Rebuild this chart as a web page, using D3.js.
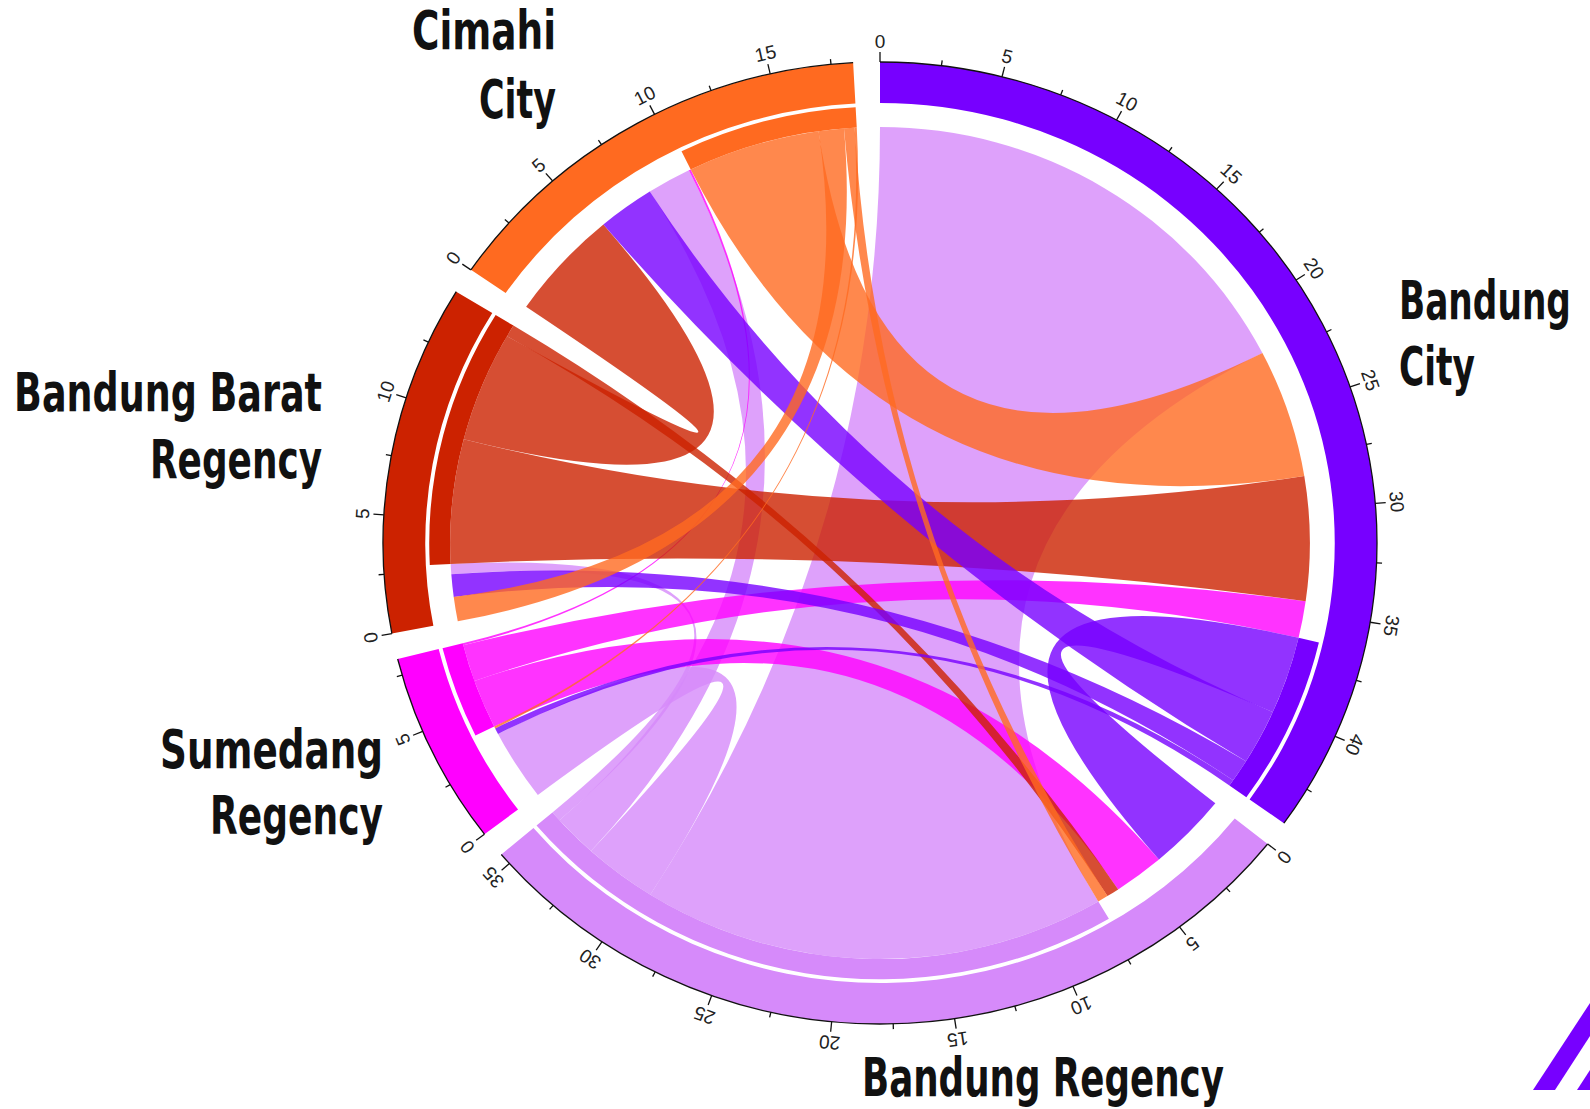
<!DOCTYPE html>
<html>
<head>
<meta charset="utf-8">
<script src="https://cdn.jsdelivr.net/npm/d3@7"></script>
<style>
body { margin: 0; background: #fff; }
svg { display: block; }
</style>
</head>
<body>
<svg id="chart" width="1590" height="1109"></svg>
<script>
// regions, clockwise from 12 o'clock
var regions = ["Bandung City", "Bandung Regency", "Sumedang Regency", "Bandung Barat Regency", "Cimahi City"];
var regionColors = ["#7700FF", "#D68AFA", "#FF00FF", "#CC2200", "#FF6A20"];

// flows: row = origin, column = destination (same order as regions)
var fromBandungCity    = [0,    3.8, 0.3, 1.1, 2.7];
var fromBandungRegency = [22.1, 0,   3.5, 0.5, 2.1];
var fromSumedang       = [1.8,  2.4, 0,   0,   0.1];
var fromBandungBarat   = [6.1,  0.6, 0,   0,   5.4];
var fromCimahi         = [6.3,  0.5, 0.1, 1.2, 0];
var flows = [fromBandungCity, fromBandungRegency, fromSumedang, fromBandungBarat, fromCimahi];

var majorStep = 5, minorStep = 2.5;

// label lines of each region
var labelLines = [["Bandung", "City"], ["Bandung Regency"], ["Sumedang", "Regency"], ["Bandung Barat", "Regency"], ["Cimahi", "City"]];

var svg = d3.select("#chart");
var cx = 880, cy = 543, R = 481, sx = 497 / 481;
var n = regions.length;
var gapDeg = 3.1;

var inTot = regions.map(function (d, j) { return d3.sum(flows, function (r) { return r[j]; }); });
var outTot = flows.map(function (r) { return d3.sum(r); });
var tot = regions.map(function (d, i) { return inTot[i] + outTot[i]; });
var unitDeg = (360 - n * gapDeg) / d3.sum(tot);

var rad = Math.PI / 180;
var scales = [];
var a0 = 0;
for (var i = 0; i < n; i++) {
	scales.push(d3.scaleLinear().domain([0, tot[i]]).range([a0 * rad, (a0 + tot[i] * unitDeg) * rad]));
	a0 += tot[i] * unitDeg + gapDeg;
}

// chord end positions: incoming first, then outgoing, both by decreasing value
var srcPos = {}, tgtPos = {}, outStart = [];
for (var k = 0; k < n; k++) {
	var pos = 0;
	var inc = d3.range(n).filter(function (i) { return flows[i][k] > 0; })
		.sort(function (p, q) { return flows[q][k] - flows[p][k]; });
	inc.forEach(function (i) { tgtPos[i + "-" + k] = [pos, pos + flows[i][k]]; pos += flows[i][k]; });
	outStart.push(pos);
	var out = d3.range(n).filter(function (j) { return flows[k][j] > 0; })
		.sort(function (p, q) { return flows[k][q] - flows[k][p]; });
	out.forEach(function (j) { srcPos[k + "-" + j] = [pos, pos + flows[k][j]]; pos += flows[k][j]; });
}

var g = svg.append("g").attr("transform", "translate(" + cx + "," + cy + ") scale(" + sx + ",1)");

// outer grid ring
var ringArc = d3.arc().innerRadius(R * 0.915).outerRadius(R);
g.selectAll("path.ring")
	.data(regions)
	.enter()
	.append("path")
	.attr("class", "ring")
	.attr("d", function (d, i) { return ringArc({ startAngle: scales[i](0), endAngle: scales[i](tot[i]) }); })
	.attr("fill", function (d, i) { return regionColors[i]; });

// band at the origin end of the chords
var bandArc = d3.arc().innerRadius(R * 0.865).outerRadius(R * 0.907);
g.selectAll("path.band")
	.data(regions)
	.enter()
	.append("path")
	.attr("class", "band")
	.attr("d", function (d, i) { return bandArc({ startAngle: scales[i](outStart[i]), endAngle: scales[i](tot[i]) }); })
	.attr("fill", function (d, i) { return regionColors[i]; });

// chords
var drawOrder = [1, 2, 3, 0, 4];
var chords = [];
drawOrder.forEach(function (i) {
	for (var j = 0; j < n; j++) {
		if (flows[i][j] > 0) {
			var s = srcPos[i + "-" + j], t = tgtPos[i + "-" + j];
			chords.push({
				from: i,
				source: { startAngle: scales[i](s[0]), endAngle: scales[i](s[1]) },
				target: { startAngle: scales[j](t[0]), endAngle: scales[j](t[1]) }
			});
		}
	}
});
var ribbon = d3.ribbon().radius(R * 0.865);
g.selectAll("path.chord")
	.data(chords)
	.enter()
	.append("path")
	.attr("class", "chord")
	.attr("d", ribbon)
	.attr("fill", function (d) { return regionColors[d.from]; })
	.attr("fill-opacity", 0.8);

// axis line and ticks
var axisArc = d3.arc().innerRadius(R).outerRadius(R);
regions.forEach(function (d, i) {
	g.append("path")
		.attr("d", axisArc({ startAngle: scales[i](0), endAngle: scales[i](tot[i]) }))
		.attr("fill", "none")
		.attr("stroke", "#111")
		.attr("stroke-width", 1.3)
		.attr("vector-effect", "non-scaling-stroke");

	var ticks = d3.range(0, tot[i] + 0.001, minorStep);
	g.selectAll("line.t" + i)
		.data(ticks)
		.enter()
		.append("line")
		.attr("x1", function (v) { return R * Math.sin(scales[i](v)); })
		.attr("y1", function (v) { return -R * Math.cos(scales[i](v)); })
		.attr("x2", function (v) { var r = v % majorStep === 0 ? 1.021 : 1.011; return R * r * Math.sin(scales[i](v)); })
		.attr("y2", function (v) { var r = v % majorStep === 0 ? 1.021 : 1.011; return -R * r * Math.cos(scales[i](v)); })
		.attr("stroke", "#111")
		.attr("stroke-width", 1.3)
		.attr("vector-effect", "non-scaling-stroke");

	var labels = d3.range(0, tot[i] + 0.001, majorStep);
	svg.selectAll("text.t" + i)
		.data(labels)
		.enter()
		.append("text")
		.attr("transform", function (v) {
			var a = scales[i](v);
			var x = cx + sx * R * 1.03 * Math.sin(a), y = cy - R * 1.03 * Math.cos(a);
			return "translate(" + x + "," + y + ") rotate(" + (a / rad) + ")";
		})
		.attr("text-anchor", "middle")
		.attr("font-family", "Liberation Sans, Arial, sans-serif")
		.attr("font-size", 19)
		.attr("fill", "#222")
		.text(function (v) { return v; });
});

// region names, squeezed horizontally to the width seen in the picture
var labelPlace = [
	{ anchor: "start", x: 1399, y: [319, 385], len: [172, 76] },
	{ anchor: "start", x: 862, y: [1096], len: [362] },
	{ anchor: "end", x: 383, y: [768, 834], len: [223, 173] },
	{ anchor: "end", x: 322, y: [411, 478], len: [308, 172] },
	{ anchor: "end", x: 556, y: [49, 118], len: [144, 77] }
];
labelLines.forEach(function (lines, i) {
	var p = labelPlace[i];
	lines.forEach(function (line, l) {
		var t = svg.append("text")
			.attr("x", 0)
			.attr("y", 0)
			.attr("text-anchor", p.anchor)
			.attr("font-family", "Liberation Sans Narrow, DejaVu Sans Condensed, Roboto, sans-serif")
			.attr("font-weight", "bold")
			.attr("font-size", 54)
			.attr("fill", "#111")
			.text(line);
		var w = t.node().getComputedTextLength();
		t.attr("transform", "translate(" + p.x + "," + p.y[l] + ") scale(" + (p.len[l] / w) + ",1)");
	});
});

// logo corner
svg.append("polygon").attr("points", "1533,1090 1555,1090 1590,1036 1590,1003").attr("fill", "#7700FF");
svg.append("polygon").attr("points", "1577,1090 1590,1090 1590,1070").attr("fill", "#7700FF");
</script>
</body>
</html>
